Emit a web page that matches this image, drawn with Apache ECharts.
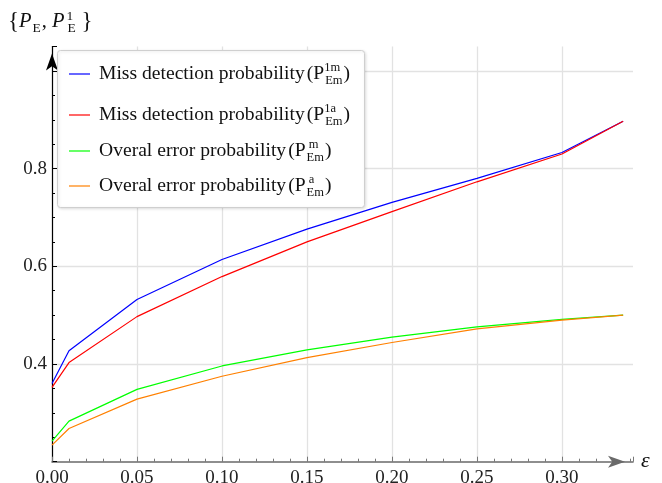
<!DOCTYPE html>
<html>
<head>
<meta charset="utf-8">
<script src="https://cdn.jsdelivr.net/npm/echarts@6/dist/echarts.min.js"></script>
<style>
html,body{margin:0;padding:0;background:#fff;}
#chart{width:662px;height:483px;}
</style>
</head>
<body>
<div id="chart"></div>
<script>
// ---- data ----
const epsilon = [0, 0.01, 0.05, 0.1, 0.15, 0.2, 0.25, 0.3, 0.336];
const missDetectM = [0.360, 0.427, 0.532, 0.614, 0.676, 0.731, 0.780, 0.833, 0.897];
const missDetectA = [0.352, 0.403, 0.497, 0.579, 0.650, 0.712, 0.773, 0.830, 0.897];
const overallErrM = [0.242, 0.283, 0.348, 0.396, 0.429, 0.455, 0.476, 0.4915, 0.500];
const overallErrA = [0.234, 0.268, 0.328, 0.375, 0.413, 0.444, 0.472, 0.490, 0.500];

const seriesNames = ['Miss detection probability (P^1m_Em)', 'Miss detection probability (P^1a_Em)',
                     'Overal error probability (P^m_Em)', 'Overal error probability (P^a_Em)'];
const legendMain = ['Miss detection probability', 'Miss detection probability',
                    'Overal error probability', 'Overal error probability'];
const legendSup = ['1m', '1a', '\u2005m', '\u2005a'];
const legendSub = 'Em';
const colors = ['#0000ff', '#ff0000', '#00ff00', '#ff8000'];
const xTickLabels = ['0.00', '0.05', '0.10', '0.15', '0.20', '0.25', '0.30'];
const yTickLabels = ['0.4', '0.6', '0.8'];

const values = [missDetectM, missDetectA, overallErrM, overallErrA];
const FONT = 'Liberation Serif';

function pairs(ys) { return epsilon.map((x, i) => [x, ys[i]]); }

const chart = echarts.init(document.getElementById('chart'), null, {renderer: 'canvas'});

const legendTops = [61, 102, 138, 173];
const legends = seriesNames.map((n, i) => ({
  data: [n],
  left: 69,
  top: legendTops[i],
  orient: 'vertical',
  icon: 'rect',
  itemWidth: 21,
  itemHeight: 1.2,
  padding: 0,
  selectedMode: false,
  formatter: () => '{t|' + legendMain[i] + '}{p|(P}{u|' + legendSup[i] + '}{d|' + legendSub + '}{p|)}',
  textStyle: {
    fontFamily: FONT,
    color: '#111',
    rich: {
      t: {fontFamily: FONT, fontSize: 19.6, color: '#111', lineHeight: 26, padding: [0, 2, 0, 4]},
      p: {fontFamily: FONT, fontSize: 19.6, color: '#111', lineHeight: 26},
      u: {fontFamily: FONT, fontSize: 12.5, color: '#111', lineHeight: 11, verticalAlign: 'top', width: 0},
      d: {fontFamily: FONT, fontSize: 12.5, color: '#111', lineHeight: 19, verticalAlign: 'bottom', padding: [0, 1, 0, 1]}
    }
  }
}));

const option = {
  animation: false,
  backgroundColor: '#fff',
  grid: {left: 52, right: 29, top: 46.5, bottom: 21.3, containLabel: false, outerBoundsMode: 'none'},
  legend: legends,
  graphic: [
    {
      type: 'rect', z: 3,
      shape: {x: 57.5, y: 50.5, width: 307, height: 157, r: 3},
      style: {fill: '#fff', stroke: '#cfcfcf', lineWidth: 1,
              shadowBlur: 3, shadowColor: 'rgba(0,0,0,0.12)', shadowOffsetX: 1, shadowOffsetY: 1}
    },
    {
      type: 'text', z: 5, left: 8, top: 9,
      style: {
        text: '{b|{}{P|P}{s|E}{c|, }{P|P}{u|1}{s|E}{b|\u2009}}',
        fontFamily: FONT, fontSize: 23, fill: '#111',
        rich: {
          b: {fontFamily: FONT, fontSize: 23, lineHeight: 26},
          P: {fontFamily: FONT, fontSize: 20.5, fontStyle: 'italic', lineHeight: 26},
          c: {fontFamily: FONT, fontSize: 20.5, lineHeight: 26},
          u: {fontFamily: FONT, fontSize: 13.5, lineHeight: 13, verticalAlign: 'top', width: 0, padding: [0, 0, 0, 2]},
          s: {fontFamily: FONT, fontSize: 13.5, lineHeight: 17, verticalAlign: 'bottom', padding: [0, 1, 0, 1]}
        }
      }
    }
  ],
  xAxis: {
    type: 'value', min: 0, max: 0.3418, interval: 0.05,
    name: 'ε', nameLocation: 'end', nameGap: 8,
    nameTextStyle: {fontFamily: FONT, fontSize: 22, fontStyle: 'italic', color: '#111', verticalAlign: 'middle', padding: [0, 0, 4, 0]},
    axisLine: {show: true, onZero: false, lineStyle: {color: '#6a6a6a', width: 1.6},
               symbol: ['none', 'arrow'], symbolSize: [9, 17], symbolOffset: [0, -8]},
    axisTick: {show: true, inside: true, length: 5, lineStyle: {color: '#777'}},
    minorTick: {show: true, splitNumber: 5, length: 3, lineStyle: {color: '#777'}},
    axisLabel: {
      fontFamily: FONT, fontSize: 19, color: '#222', margin: 7,
      formatter: v => { const k = Math.round(v / 0.05); return (Math.abs(v - k * 0.05) < 1e-6 && k < xTickLabels.length) ? xTickLabels[k] : ''; }
    },
    splitLine: {show: true, lineStyle: {color: ['#e2e2e2', '#e2e2e2', '#e2e2e2', '#e2e2e2', '#e2e2e2', '#e2e2e2', '#e2e2e2', 'rgba(0,0,0,0)'], width: 1.3}}
  },
  yAxis: {
    type: 'value', min: 0.2, max: 1.05, interval: 0.2,
    axisLine: {show: true, onZero: false, lineStyle: {color: '#000', width: 1.2},
               symbol: ['none', 'arrow'], symbolSize: [9, 17], symbolOffset: [0, -7]},
    axisTick: {show: true, inside: true, length: 5, lineStyle: {color: '#000'}},
    minorTick: {show: true, splitNumber: 4, length: 3, lineStyle: {color: '#000'}},
    axisLabel: {
      fontFamily: FONT, fontSize: 19, color: '#222', margin: 5,
      formatter: v => { const k = Math.round((v - 0.4) / 0.2); return (Math.abs(v - (0.4 + k * 0.2)) < 1e-6 && k >= 0 && k < yTickLabels.length) ? yTickLabels[k] : ''; }
    },
    splitLine: {show: true, lineStyle: {color: ['rgba(0,0,0,0)', '#e2e2e2', '#e2e2e2', '#e2e2e2', '#e2e2e2', 'rgba(0,0,0,0)'], width: 1.3}}
  },
  series: seriesNames.map((n, i) => ({
    name: n, type: 'line', data: pairs(values[i]),
    symbol: 'none', smooth: false, z: 2,
    lineStyle: {color: colors[i], width: 1.2},
    itemStyle: {color: colors[i]}
  }))
};
chart.setOption(option);
</script>
</body>
</html>
